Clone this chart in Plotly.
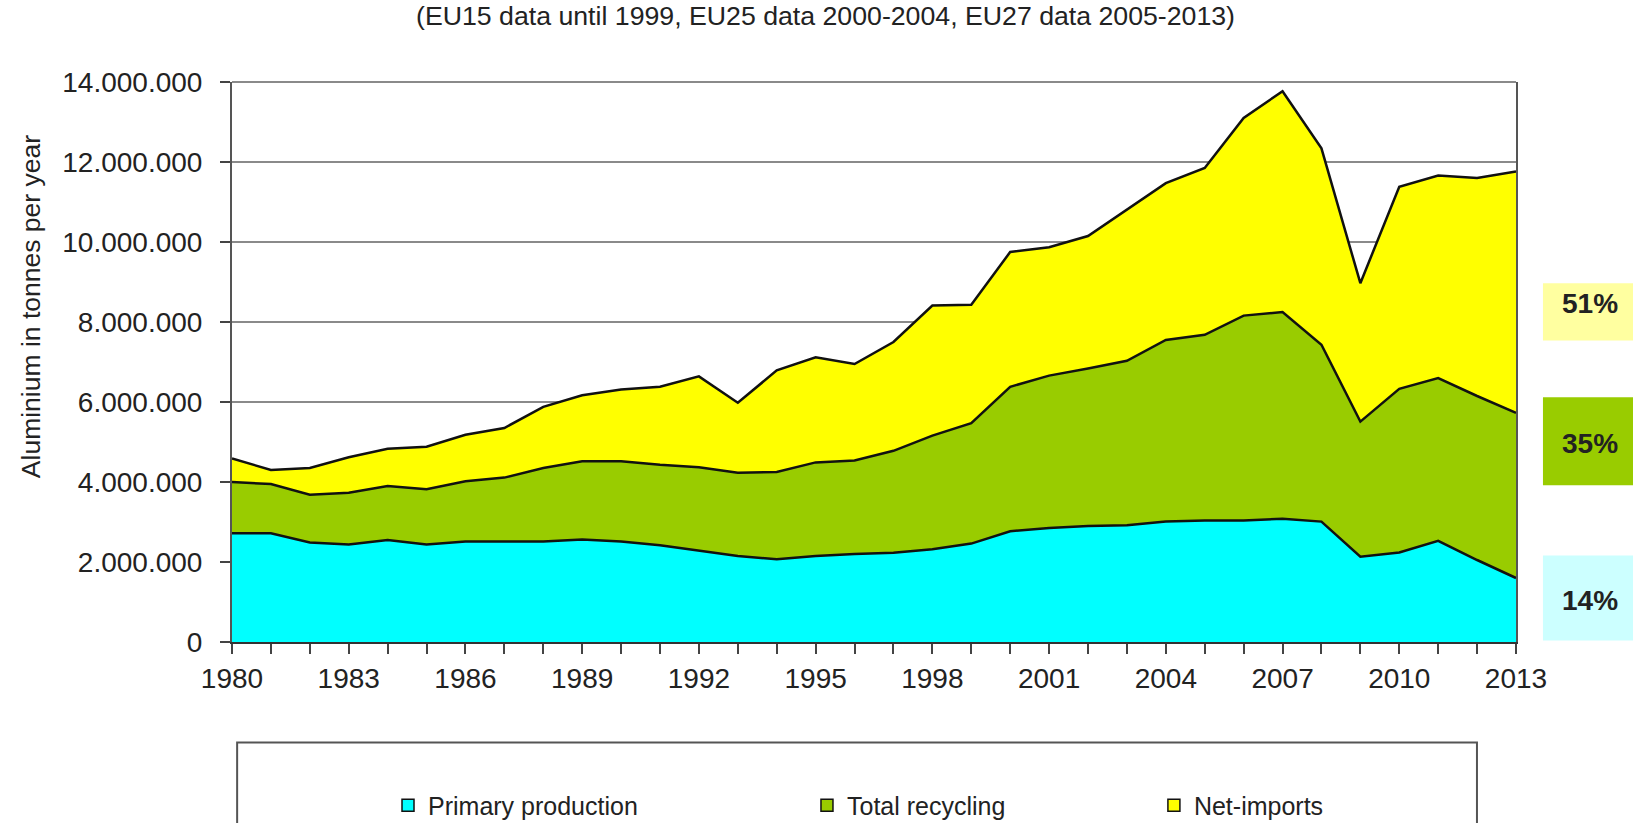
import plotly.graph_objects as go

years = list(range(1980, 2014))
primary_production = [2.72, 2.72, 2.49, 2.44, 2.55, 2.44, 2.51, 2.51, 2.51, 2.56, 2.51, 2.42, 2.28, 2.15,
                      2.07, 2.15, 2.20, 2.23, 2.32, 2.46, 2.77, 2.85, 2.90, 2.92, 3.01, 3.04, 3.04, 3.08,
                      3.01, 2.13, 2.24, 2.53, 2.05, 1.60]
total_recycling = [1.28, 1.23, 1.19, 1.29, 1.35, 1.38, 1.51, 1.60, 1.84, 1.96, 2.01, 2.01, 2.09, 2.08,
                   2.18, 2.34, 2.34, 2.55, 2.84, 3.01, 3.61, 3.81, 3.94, 4.11, 4.54, 4.64, 5.12, 5.17,
                   4.42, 3.38, 4.09, 4.07, 4.10, 4.13]
net_imports = [0.59, 0.35, 0.67, 0.89, 0.93, 1.06, 1.16, 1.24, 1.53, 1.65, 1.79, 1.95, 2.27, 1.75,
               2.54, 2.63, 2.41, 2.72, 3.25, 2.96, 3.37, 3.21, 3.31, 3.77, 3.92, 4.17, 4.94, 5.52,
               4.91, 3.46, 5.05, 5.06, 5.45, 6.03]
series_names = ["Primary production", "Total recycling", "Net-imports"]
series_colors = ["#00FFFF", "#99CC00", "#FFFF00"]
share_labels = ["14%", "35%", "51%"]
share_box_colors = ["#CCFFFF", "#99CC00", "#FFFFA0"]

title_text = "(EU15 data until 1999, EU25 data 2000-2004, EU27 data 2005-2013)"
y_title = "Aluminium in tonnes per year"

FONT = "Liberation Sans"
TXT = "#222222"
share_box_ranges = [(0.04e6, 2.16e6), (3.92e6, 6.12e6), (7.54e6, 8.97e6)]
share_label_y = [1.04e6, 4.97e6, 8.47e6]

fig = go.Figure()
for name, vals, col in zip(series_names, [primary_production, total_recycling, net_imports], series_colors):
    fig.add_trace(go.Scatter(
        x=years, y=[v * 1e6 for v in vals], name=name, mode="lines",
        stackgroup="one", fillcolor=col,
        line=dict(color="#111111", width=2.5), showlegend=False))

legend_x = [0.1215, 0.4478, 0.718]
legend_keys = ["legend", "legend2", "legend3"]
for name, col, key in zip(series_names, series_colors, legend_keys):
    fig.add_trace(go.Scatter(
        x=[None], y=[None], name=name, mode="markers",
        marker=dict(symbol="square", size=12, color=col, line=dict(color="#111111", width=1.5)),
        showlegend=True, legend=key))

leg_common = dict(yanchor="middle", y=-0.292, xanchor="left", bgcolor="rgba(0,0,0,0)",
                  borderwidth=0, font=dict(family=FONT, size=25, color=TXT),
                  itemwidth=30)
fig.update_layout(
    legend=dict(x=legend_x[0], **leg_common),
    legend2=dict(x=legend_x[1], **leg_common),
    legend3=dict(x=legend_x[2], **leg_common),
)

# legend frame
fig.add_shape(type="rect", xref="paper", yref="paper", x0=0.004, x1=0.9696, y0=-0.1796, y1=-0.36,
              line=dict(color="#555555", width=2), fillcolor="rgba(0,0,0,0)", layer="above")

# top frame line of plot area
fig.add_shape(type="line", xref="paper", yref="paper", x0=0, x1=1, y0=1, y1=1,
              line=dict(color="#8a8a8a", width=2), layer="above")

# share boxes
for lab, bc, (y0, y1), ly in zip(share_labels, share_box_colors, share_box_ranges, share_label_y):
    fig.add_shape(type="rect", xref="paper", yref="y", x0=1.021, x1=1.10, y0=y0, y1=y1,
                  line=dict(width=0), fillcolor=bc, layer="above")
    fig.add_annotation(xref="paper", yref="y", x=1.058, y=ly, text="<b>%s</b>" % lab,
                       showarrow=False, xanchor="center", yanchor="middle",
                       font=dict(family=FONT, size=28, color=TXT))

fig.add_annotation(xref="paper", yref="paper", x=0.4626, y=1.118, text=title_text, showarrow=False,
                   xanchor="center", yanchor="middle", font=dict(family=FONT, size=26.7, color=TXT))
fig.add_annotation(xref="paper", yref="paper", x=-0.1565, y=0.598, text=y_title, showarrow=False,
                   textangle=-90, xanchor="center", yanchor="middle",
                   font=dict(family=FONT, size=26.5, color=TXT))

fig.update_xaxes(range=[1980, 2013], tick0=1980, dtick=3, ticks="outside", ticklen=10, tickwidth=1.5,
                 tickcolor="#444444", showline=True, linecolor="#333333", linewidth=2, mirror=False,
                 showgrid=False, zeroline=False,
                 minor=dict(dtick=1, tick0=1980, ticks="outside", ticklen=10, tickwidth=1.5,
                            tickcolor="#444444", showgrid=False),
                 tickfont=dict(family=FONT, size=28, color=TXT))
fig.update_yaxes(range=[0, 14e6], dtick=2e6, tickformat=",d", ticks="outside", ticklen=10, tickwidth=1.5,
                 tickcolor="#444444", showline=True, linecolor="#555555", linewidth=2, mirror=True,
                 showgrid=True, gridcolor="#8a8a8a", gridwidth=2, zeroline=False,
                 ticklabelstandoff=12,
                 tickfont=dict(family=FONT, size=28, color=TXT))

fig.update_layout(
    width=1633, height=823, separators=",.",
    margin=dict(l=232, r=117, t=82, b=181, autoexpand=False),
    paper_bgcolor="white", plot_bgcolor="white",
    font=dict(family=FONT, color=TXT),
)
fig.write_html("out.html", config={"displayModeBar": False},
               post_script="document.body.style.margin='0px';document.body.style.overflow='hidden';")
